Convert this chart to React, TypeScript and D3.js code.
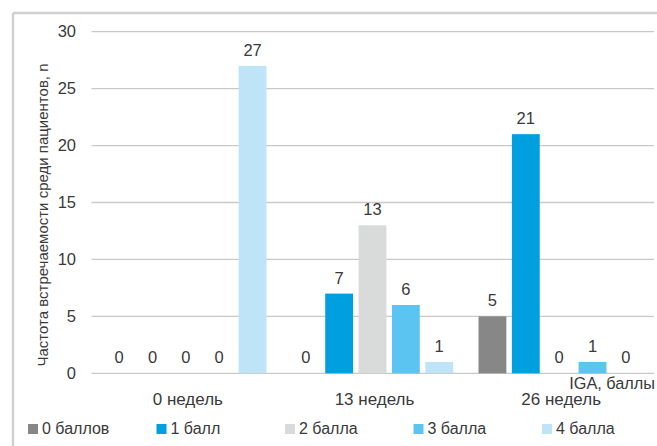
import React from "react";
import * as d3 from "d3";

const categories = ["0 недель", "13 недель", "26 недель"];
const seriesNames = ["0 баллов", "1 балл", "2 балла", "3 балла", "4 балла"];
const seriesColors = ["#878787", "#009fe0", "#d9dada", "#5cc4f1", "#bfe4f8"];
// values[series][category]
const values = [
  [0, 0, 5],
  [0, 7, 21],
  [0, 13, 0],
  [0, 6, 1],
  [27, 1, 0],
];
const yTicks = [0, 5, 10, 15, 20, 25, 30];

const W = 657;
const H = 446;
const FONT = "'Liberation Sans', Arial, Helvetica, sans-serif";
const TXT = "#3a3a3a";

export default function App() {
  const x0 = d3.scaleBand<string>().domain(categories).range([92.5, 652.5]).padding(0);
  const x1 = d3
    .scaleBand<string>()
    .domain(seriesNames)
    .range([0, x0.bandwidth()])
    .paddingInner(0.165)
    .paddingOuter(0.38);
  const y = d3.scaleLinear().domain([0, 30]).range([373.3, 31.7]);

  return (
    <svg
      width={W}
      height={H}
      style={{ position: "absolute", left: 0, top: 0, display: "block" }}
      fontFamily={FONT}
    >
      <rect x={0} y={0} width={W} height={H} fill="#fff" />
      {/* frame */}
      <line x1={13} y1={13} x2={W} y2={13} stroke="#d0d0d0" strokeWidth={2.5} />
      <line x1={13} y1={13} x2={13} y2={H} stroke="#d0d0d0" strokeWidth={2.5} />

      {/* gridlines */}
      {yTicks.map((t) => (
        <line
          key={"g" + t}
          x1={91.5}
          x2={654}
          y1={y(t)}
          y2={y(t)}
          stroke="#c9c9c9"
          strokeWidth={1.3}
        />
      ))}
      {/* y tick labels */}
      {yTicks.map((t) => (
        <text
          key={"t" + t}
          x={76}
          y={y(t)}
          dy="0.35em"
          textAnchor="end"
          fontSize={16.5}
          fill={TXT}
        >
          {t}
        </text>
      ))}

      {/* bars */}
      {categories.map((c, ci) => (
        <g key={c} transform={`translate(${x0(c)},0)`}>
          {seriesNames.map((s, si) => {
            const v = values[si][ci];
            const bx = x1(s)!;
            return (
              <g key={s}>
                {v > 0 && (
                  <rect
                    x={bx}
                    y={y(v)}
                    width={x1.bandwidth()}
                    height={y(0) - y(v)}
                    fill={seriesColors[si]}
                  />
                )}
                <text
                  x={bx + x1.bandwidth() / 2}
                  y={y(v) - 10}
                  textAnchor="middle"
                  fontSize={16.5}
                  fill={TXT}
                >
                  {v}
                </text>
              </g>
            );
          })}
        </g>
      ))}

      {/* category labels */}
      {categories.map((c) => (
        <text
          key={"c" + c}
          x={x0(c)! + x0.bandwidth() / 2 + 2}
          y={405}
          textAnchor="middle"
          fontSize={17}
          fill={TXT}
        >
          {c}
        </text>
      ))}

      <text x={655} y={389} textAnchor="end" fontSize={16.3} fill={TXT}>
        IGA, баллы
      </text>

      {/* y title */}
      <text
        transform={`translate(48,215) rotate(-90)`}
        textAnchor="middle"
        fontSize={15}
        fill={TXT}
      >
        Частота встречаемости среди пациентов, n
      </text>

      {/* legend */}
      {seriesNames.map((s, i) => {
        const lx = 28 + i * 128.5;
        return (
          <g key={"l" + s}>
            <rect x={lx} y={424} width={10} height={10} fill={seriesColors[i]} />
            <text x={lx + 14} y={434} fontSize={16} fill={TXT}>
              {s}
            </text>
          </g>
        );
      })}
    </svg>
  );
}
